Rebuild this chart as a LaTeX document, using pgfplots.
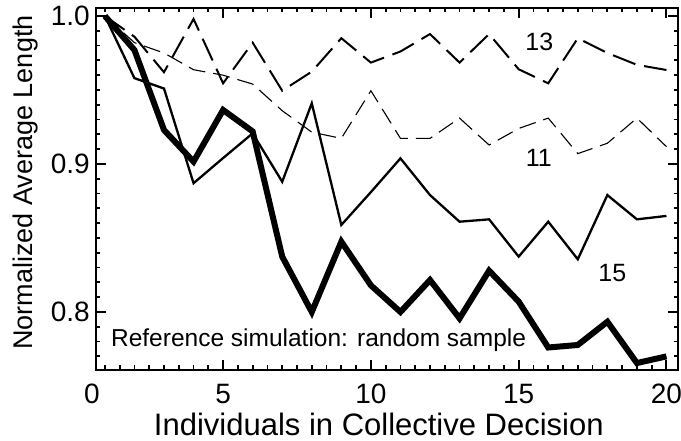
\documentclass[border=0pt]{standalone}
\usepackage{pgfplots}
\pgfplotsset{compat=1.18}
\usepackage{fontspec}
\setmainfont{Liberation Sans}

\begin{document}
\begin{tikzpicture}
\begin{axis}[
  name=ax, scale only axis, width=582bp, height=362bp,
  xmin=0.7, xmax=20.39, ymin=0.7608, ymax=1.0054,
  axis line style={line width=2.2bp},
  tick align=inside,
  xtick={5,10,15,20},
  minor xtick={1,1.5,...,20},
  ytick={0.8,0.9,1.0},
  minor ytick={0.77,0.78,0.79,0.80,0.81,0.82,0.83,0.84,0.85,0.86,0.87,0.88,0.89,0.90,0.91,0.92,0.93,0.94,0.95,0.96,0.97,0.98,0.99,1.00},
  major tick length=10bp, minor tick length=4.5bp,
  major tick style={line width=2bp,black},
  minor tick style={line width=1.8bp,black},
  /pgf/number format/assume math mode=true,
  tick label style={font=\fontsize{28bp}{30bp}\selectfont, inner sep=0pt},
  xticklabel style={anchor=north, yshift=-14bp},
  yticklabel style={anchor=east, xshift=-6bp},
  y tick label style={/pgf/number format/fixed, /pgf/number format/fixed zerofill, /pgf/number format/precision=1},
  extra x ticks={0.7}, extra x tick labels={0},
  extra x tick style={major tick length=0pt, xticklabel style={xshift=-4bp}},
  xlabel={Individuals in Collective Decision},
  ylabel={Normalized Average Length},
  xlabel style={at={(axis description cs:0.486,-0.1823)}, anchor=base, font=\fontsize{31bp}{34bp}\selectfont, inner sep=0pt},
  ylabel style={at={(axis description cs:-0.1094,0.518)}, anchor=base, font=\fontsize{27bp}{30bp}\selectfont, inner sep=0pt},
]
% group 13 (long dashes)
\addplot[black, line width=2bp, dash pattern=on 24bp off 9bp, sharp plot] coordinates {
(1,1.0) (2,0.986) (3,0.962) (4,0.998) (5,0.9545) (6,0.982) (7,0.9495) (8,0.9624) (9,0.985) (10,0.9685)
(11,0.976) (12,0.9878) (13,0.9685) (14,0.9878) (15,0.964) (16,0.9545) (17,0.985) (18,0.975) (19,0.967) (20,0.9635)};
% group 11 (thin dashes)
\addplot[black, line width=1.1bp, dash pattern=on 17bp off 8bp, sharp plot] coordinates {
(1,1.0) (2,0.982) (3,0.975) (4,0.9637) (5,0.960) (6,0.954) (7,0.936) (8,0.9215) (9,0.9173) (10,0.9495)
(11,0.9173) (12,0.9173) (13,0.931) (14,0.9128) (15,0.924) (16,0.931) (17,0.907) (18,0.914) (19,0.931) (20,0.9117)};
% group 15 (thin solid)
\addplot[black, line width=2.3bp, sharp plot] coordinates {
(1,1.0) (2,0.958) (3,0.951) (4,0.887) (5,0.904) (6,0.9207) (7,0.888) (8,0.941) (9,0.8588) (10,0.881)
(11,0.9038) (12,0.879) (13,0.861) (14,0.8626) (15,0.8374) (16,0.861) (17,0.8356) (18,0.879) (19,0.8626) (20,0.8649)};
% reference simulation (thick)
\addplot[black, line width=6bp, sharp plot] coordinates {
(1,1.0) (2,0.977) (3,0.923) (4,0.9016) (5,0.9365) (6,0.922) (7,0.8374) (8,0.800) (9,0.8475) (10,0.818)
(11,0.800) (12,0.8216) (13,0.7957) (14,0.8279) (15,0.807) (16,0.776) (17,0.7777) (18,0.7934) (19,0.7655) (20,0.770)};
\node[font=\fontsize{25bp}{25bp}\selectfont, inner sep=0pt] at (axis cs:15.70,0.9828) {13};
\node[font=\fontsize{25bp}{25bp}\selectfont, inner sep=0pt] at (axis cs:15.68,0.9038) {11};
\node[font=\fontsize{25bp}{25bp}\selectfont, inner sep=0pt] at (axis cs:18.17,0.8261) {15};
\node[font=\fontsize{24.5bp}{24.5bp}\selectfont, inner sep=0pt, anchor=base west] at (axis cs:1.205,0.7766) {Reference simulation: random sample};
\end{axis}
\pgfresetboundingbox
\path ([xshift=-96bp,yshift=-71bp]ax.south west) rectangle ([xshift=3bp,yshift=8bp]ax.north east);
\end{tikzpicture}
\end{document}
